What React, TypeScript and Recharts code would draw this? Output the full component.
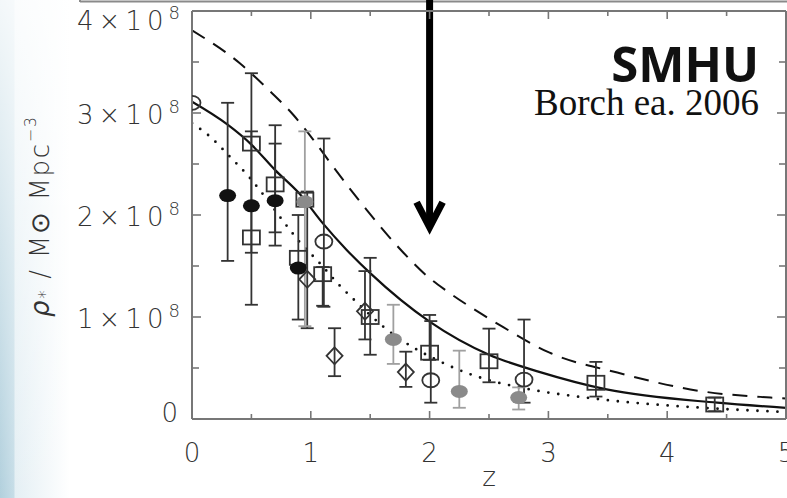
import React from 'react';
import { ComposedChart, XAxis, YAxis, Line, Scatter, ErrorBar, ReferenceLine, ReferenceDot } from 'recharts';

// ---- axis ticks / labels ----
const Z_TICKS = [0, 0.5, 1, 1.5, 2, 2.5, 3, 3.5, 4, 4.5, 5];
const Z_LABELS = ['0', '1', '2', '3', '4', '5'];
const RHO_TICKS = [0, 0.5, 1, 1.5, 2, 2.5, 3, 3.5, 4];
const RHO_MANTISSAS = ['0', '1', '2', '3', '4'];
const RHO_EXPONENT = '8';

// ---- model curves (rho in units of 1e8 Msun Mpc^-3) ----
const SOLID_MODEL = [
  { z: 0, v: 3.11 }, { z: 0.3, v: 2.885 }, { z: 0.5, v: 2.69 }, { z: 0.7, v: 2.44 },
  { z: 0.9, v: 2.215 }, { z: 1.1, v: 1.92 }, { z: 1.3, v: 1.66 }, { z: 1.5, v: 1.43 },
  { z: 2.0, v: 0.955 }, { z: 2.5, v: 0.63 }, { z: 2.93, v: 0.46 }, { z: 3.49, v: 0.29 },
  { z: 4.42, v: 0.16 }, { z: 5.0, v: 0.11 },
];
const DASHED_MODEL = [
  { z: 0, v: 3.81 }, { z: 0.4, v: 3.49 }, { z: 0.66, v: 3.21 }, { z: 0.85, v: 2.985 },
  { z: 1.02, v: 2.74 }, { z: 1.19, v: 2.47 }, { z: 1.47, v: 2.05 }, { z: 1.78, v: 1.63 },
  { z: 1.98, v: 1.40 }, { z: 2.15, v: 1.25 }, { z: 2.45, v: 1.02 }, { z: 2.62, v: 0.9 },
  { z: 3.01, v: 0.65 }, { z: 3.58, v: 0.455 }, { z: 4.3, v: 0.27 }, { z: 4.87, v: 0.21 },
  { z: 5.0, v: 0.2 },
];
const DOTTED_MODEL = [
  { z: 0, v: 2.9 }, { z: 0.15, v: 2.77 }, { z: 0.32, v: 2.57 }, { z: 0.49, v: 2.36 },
  { z: 0.59, v: 2.215 }, { z: 0.78, v: 1.92 }, { z: 0.94, v: 1.69 }, { z: 1.05, v: 1.56 },
  { z: 1.25, v: 1.3 }, { z: 1.39, v: 1.14 }, { z: 1.61, v: 0.906 }, { z: 2.15, v: 0.53 },
  { z: 2.48, v: 0.387 }, { z: 2.76, v: 0.31 }, { z: 3.46, v: 0.19 }, { z: 4.3, v: 0.11 },
  { z: 4.97, v: 0.07 },
];

// ---- data points: err = [lower, upper] ----
const OPEN_SQUARES = [
  { z: 0.5, v: 2.7, err: [0.61, 0.12] },
  { z: 0.5, v: 1.78, err: [0.15, 0.31] },
  { z: 0.7, v: 2.3, err: [0.47, 0.4] },
  { z: 0.895, v: 1.58, err: [0.605, 0.42] },
  { z: 0.95, v: 2.15, err: undefined },
  { z: 1.1, v: 1.42, err: [0.31, 0.07] },
  { z: 1.5, v: 1.0, err: [0.37, 0.58] },
  { z: 2.0, v: 0.65, err: [0.07, 0.37] },
  { z: 2.5, v: 0.566, err: [0.206, 0.32] },
  { z: 3.4, v: 0.355, err: [0.135, 0.205] },
  { z: 4.4, v: 0.142, err: [0.066, 0.068] },
];
const OPEN_CIRCLES = [
  { z: 0, v: 3.1, err: undefined },
  { z: 1.11, v: 1.74, err: [0.64, 1.01] },
  { z: 2.01, v: 0.38, err: [0.22, 0.58] },
  { z: 2.795, v: 0.387, err: [0.227, 0.588] },
];
const OPEN_DIAMONDS = [
  { z: 0.97, v: 1.37, err: [0.48, 0.86] },
  { z: 1.2, v: 0.62, err: [0.2, 0.27] },
  { z: 1.456, v: 1.056, err: [0.276, 0.394] },
  { z: 1.8, v: 0.46, err: [0.145, 0.2] },
];
const GRAY_DOTS = [
  { z: 0.95, v: 2.13, err: [1.22, 0.69] },
  { z: 1.695, v: 0.78, err: [0.24, 0.34] },
  { z: 2.25, v: 0.27, err: [0.16, 0.4] },
  { z: 2.75, v: 0.21, err: [0.117, 0.1] },
];
const BLACK_DOTS = [
  { z: 0.3, v: 2.19, err: [0.64, 0.91] },
  { z: 0.5, v: 2.09, err: [0.97, 1.3] },
  { z: 0.7, v: 2.14, err: [0.44, 0.74] },
  { z: 0.895, v: 1.48, err: undefined },
];

const ARROW_Z = 2;
const ARROW_TOP = 4.12;
const ARROW_TIP = 1.88;

const AXIS_COLOR = '#777';
const LABEL_COLOR = '#333';
const TICK_FONT = "'DejaVu Sans', sans-serif";
const MARK = '#333';

const BottomTick = (props: any) => {
  const { x, y, payload } = props;
  const major = Number.isInteger(payload.value);
  return (
    <g>
      <line x1={x} x2={x} y1={y} y2={y - (major ? 8 : 5)} stroke={AXIS_COLOR} strokeWidth={1.6} />
      {major && (
        <text x={x} y={y + 34} textAnchor="middle" dominantBaseline="central" fontFamily={TICK_FONT}
          fontWeight={200} fontSize={26} fill={LABEL_COLOR}>{Z_LABELS[payload.value]}</text>
      )}
    </g>
  );
};
const TopTick = (props: any) => {
  const { x, y, payload } = props;
  const major = Number.isInteger(payload.value);
  return <line x1={x} x2={x} y1={y} y2={y + (major ? 8 : 5)} stroke={AXIS_COLOR} strokeWidth={1.6} />;
};
const LeftTick = (props: any) => {
  const { x, y, payload } = props;
  const v = payload.value;
  const major = Number.isInteger(v);
  let dy = 2;
  if (v === 4) dy = 10;
  if (v === 0) dy = -6;
  return (
    <g>
      <line x1={x} x2={x + (major ? 9 : 7)} y1={y} y2={y} stroke={AXIS_COLOR} strokeWidth={1.6} />
      {major && (v === 0 ? (
        <text x={x - 14} y={y + dy} textAnchor="end" dominantBaseline="central" fontFamily={TICK_FONT}
          fontWeight={200} fontSize={26} fill={LABEL_COLOR}>{RHO_MANTISSAS[0]}</text>
      ) : (
        <text x={x - 115} y={y + dy} textAnchor="start" dominantBaseline="central" fontFamily={TICK_FONT}
          fontWeight={200} fontSize={26} fill={LABEL_COLOR} textLength={103} lengthAdjust="spacing">
          <tspan>{RHO_MANTISSAS[v] + '×10'}</tspan>
          <tspan dy={-9} fontSize={18}>{RHO_EXPONENT}</tspan>
        </text>
      ))}
    </g>
  );
};
const RightTick = (props: any) => {
  const { x, y, payload } = props;
  const major = Number.isInteger(payload.value);
  return <line x1={x} x2={x - (major ? 9 : 7)} y1={y} y2={y} stroke={AXIS_COLOR} strokeWidth={1.6} />;
};

const SquareShape = (p: any) => (
  <rect x={p.cx - 8.5} y={p.cy - 7} width={17} height={14} fill="none" stroke={MARK} strokeWidth={1.8} />
);
const CircleShape = (p: any) => (
  <ellipse cx={p.cx} cy={p.cy} rx={8.5} ry={7} fill="none" stroke={MARK} strokeWidth={1.8} />
);
const DiamondShape = (p: any) => (
  <path d={`M${p.cx} ${p.cy - 8.5} L${p.cx + 8} ${p.cy} L${p.cx} ${p.cy + 8.5} L${p.cx - 8} ${p.cy} Z`}
    fill="none" stroke={MARK} strokeWidth={1.8} />
);
const GrayShape = (p: any) => <ellipse cx={p.cx} cy={p.cy} rx={8.5} ry={6.5} fill="#8a8a8a" />;
const BlackShape = (p: any) => <ellipse cx={p.cx} cy={p.cy} rx={8.5} ry={6.5} fill="#111" />;
const ArrowHead = (p: any) => (
  <path d={`M${p.cx - 13} ${p.cy - 25} L${p.cx} ${p.cy} L${p.cx + 13} ${p.cy - 25}`} fill="none"
    stroke="#000" strokeWidth={7} strokeLinejoin="miter" strokeMiterlimit={10} />
);

export default function App() {
  return (
    <div style={{
      position: 'absolute', left: 0, top: 0, width: 787, height: 498, overflow: 'hidden',
      background: 'linear-gradient(to bottom, rgba(255,255,255,0.85), rgba(255,255,255,0) 100%), linear-gradient(to right, #b2d0dd 0px, #c6dde7 14px, #e4eff4 15px, #ffffff 70px)',
    }}>
      <svg width={787} height={498} style={{ position: 'absolute', left: 0, top: 0 }}>
        <rect x={192} y={11} width={594} height={408} fill="#fff" />
        <line x1={80} y1={1.5} x2={787} y2={1.5} stroke="#8a8a8a" strokeWidth={2} />
        <line x1={80} y1={0} x2={80} y2={2} stroke="#8a8a8a" strokeWidth={2} />
      </svg>
      <div style={{ position: 'absolute', left: 0, top: 0 }}>
        <ComposedChart width={787} height={498} margin={{ top: 0, right: 0, bottom: 0, left: 0 }}>
          <XAxis xAxisId="b" type="number" dataKey="z" domain={[0, 5]} ticks={Z_TICKS} interval={0}
            allowDataOverflow height={79} tickSize={0} tickMargin={0} tickLine={false}
            axisLine={{ stroke: AXIS_COLOR, strokeWidth: 2 }} tick={<BottomTick />} />
          <XAxis xAxisId="t" orientation="top" type="number" dataKey="z" domain={[0, 5]} ticks={Z_TICKS}
            interval={0} allowDataOverflow height={11} tickSize={0} tickMargin={0} tickLine={false}
            axisLine={{ stroke: AXIS_COLOR, strokeWidth: 2 }} tick={<TopTick />} />
          <YAxis yAxisId="l" type="number" dataKey="v" domain={[0, 4]} ticks={RHO_TICKS} interval={0}
            allowDataOverflow width={192} tickSize={0} tickMargin={0} tickLine={false}
            axisLine={{ stroke: AXIS_COLOR, strokeWidth: 2 }} tick={<LeftTick />} />
          <YAxis yAxisId="r" orientation="right" type="number" dataKey="v" domain={[0, 4]} ticks={RHO_TICKS}
            interval={0} allowDataOverflow width={1} tickSize={0} tickMargin={0} tickLine={false}
            axisLine={{ stroke: AXIS_COLOR, strokeWidth: 2 }} tick={<RightTick />} />

          <Line xAxisId="b" yAxisId="l" data={DASHED_MODEL} dataKey="v" type="monotone" stroke="#111"
            strokeWidth={2} strokeDasharray="15 10" dot={false} isAnimationActive={false} />
          <Line xAxisId="b" yAxisId="l" data={DOTTED_MODEL} dataKey="v" type="monotone" stroke="#111"
            strokeWidth={2.8} strokeDasharray="0 10" strokeLinecap="round" dot={false} isAnimationActive={false} />
          <Line xAxisId="b" yAxisId="l" data={SOLID_MODEL} dataKey="v" type="monotone" stroke="#111"
            strokeWidth={2.2} dot={false} isAnimationActive={false} />

          <Scatter xAxisId="b" yAxisId="l" data={OPEN_SQUARES} shape={SquareShape} isAnimationActive={false}>
            <ErrorBar dataKey="err" direction="y" width={6.5} stroke={MARK} strokeWidth={1.8} />
          </Scatter>
          <Scatter xAxisId="b" yAxisId="l" data={OPEN_CIRCLES} shape={CircleShape} isAnimationActive={false}>
            <ErrorBar dataKey="err" direction="y" width={6.5} stroke={MARK} strokeWidth={1.8} />
          </Scatter>
          <Scatter xAxisId="b" yAxisId="l" data={OPEN_DIAMONDS} shape={DiamondShape} isAnimationActive={false}>
            <ErrorBar dataKey="err" direction="y" width={6.5} stroke={MARK} strokeWidth={1.8} />
          </Scatter>
          <Scatter xAxisId="b" yAxisId="l" data={GRAY_DOTS} shape={GrayShape} isAnimationActive={false}>
            <ErrorBar dataKey="err" direction="y" width={6.5} stroke="#a0a0a0" strokeWidth={1.8} />
          </Scatter>
          <Scatter xAxisId="b" yAxisId="l" data={BLACK_DOTS} shape={BlackShape} isAnimationActive={false}>
            <ErrorBar dataKey="err" direction="y" width={6.5} stroke={MARK} strokeWidth={1.8} />
          </Scatter>

          <ReferenceLine xAxisId="b" yAxisId="l" segment={[{ x: ARROW_Z, y: ARROW_TOP }, { x: ARROW_Z, y: ARROW_TIP + 0.05 }]}
            stroke="#000" strokeWidth={7} ifOverflow="visible" />
          <ReferenceDot xAxisId="b" yAxisId="l" x={ARROW_Z} y={ARROW_TIP} ifOverflow="visible" shape={ArrowHead} />
        </ComposedChart>
      </div>
      <svg width={787} height={498} style={{ position: 'absolute', left: 0, top: 0, pointerEvents: 'none' }}>
        <text x={759} y={82} textAnchor="end" fontFamily="'Open Sans', sans-serif" fontWeight={700}
          fontSize={49} fill="#111">SMHU</text>
        <text x={759} y={115} textAnchor="end" fontFamily="'Liberation Serif', 'Times New Roman', serif"
          fontSize={37} fill="#111">Borch ea. 2006</text>
        <text x={489} y={486} textAnchor="middle" fontFamily={TICK_FONT} fontWeight={200} fontSize={26}
          fill={LABEL_COLOR}>z</text>
        <text transform="rotate(-90 40 217)" x={40} y={217} textAnchor="middle" dominantBaseline="central"
          fontFamily={TICK_FONT} fontWeight={200} fontSize={26} fill={LABEL_COLOR} textLength={200}
          lengthAdjust="spacing">
          <tspan fontStyle="italic">ρ</tspan>
          <tspan fontSize={17} dy={5}>*</tspan>
          <tspan dy={-5}> / M⊙ Mpc</tspan>
          <tspan fontSize={16} dy={-10}>−3</tspan>
        </text>
      </svg>
    </div>
  );
}
